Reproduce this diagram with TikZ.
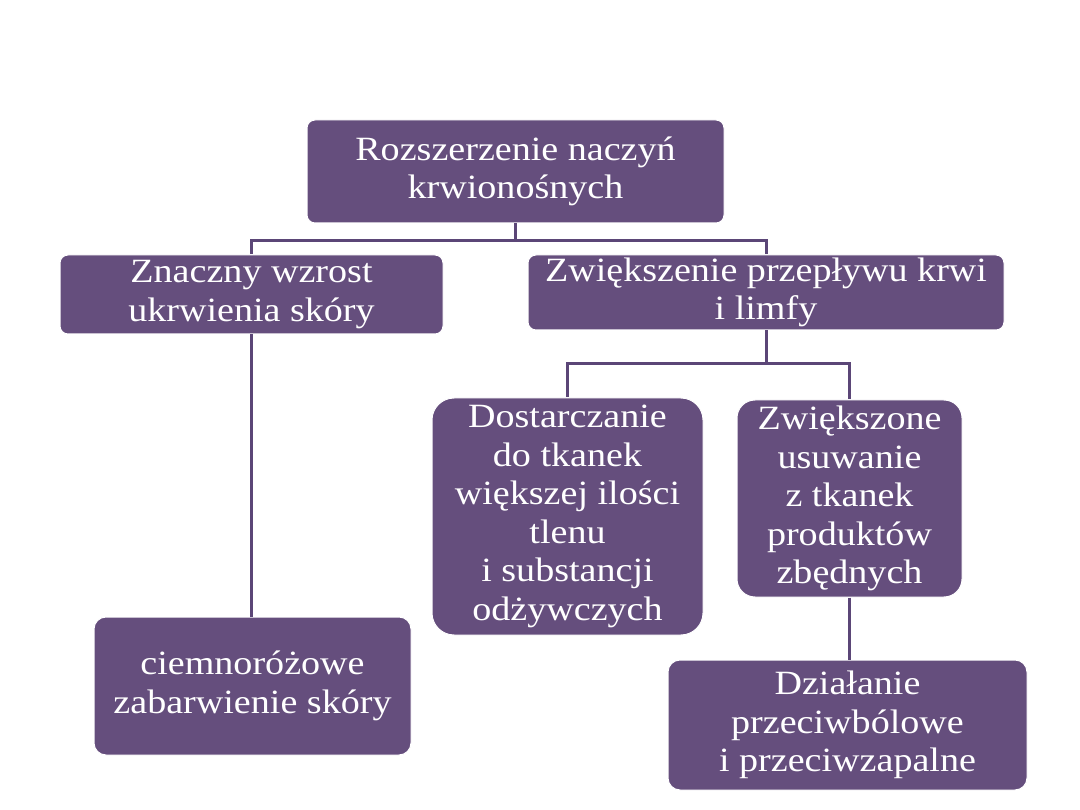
\documentclass[tikz,border=0pt]{standalone}
\usepackage{fontspec}
\setmainfont[FakeStretch=1.12]{Liberation Serif}
\definecolor{boxfill}{HTML}{654E7D}
\definecolor{linecol}{HTML}{5B4677}
\begin{document}
\begin{tikzpicture}[x=1pt,y=-1pt,
  box/.style={draw=white, line width=1pt, fill=boxfill, rounded corners=8pt, text=white,
    align=center, font=\fontsize{34}{38.5}\selectfont, inner sep=0pt},
  conn/.style={draw=linecol, line width=3pt}]
\useasboundingbox (0,0) rectangle (1080,810);
\node[box, minimum width=417pt, minimum height=103pt] (top) at (515.5,171.5) {Rozszerzenie naczyń\\krwionośnych};
\node[box, minimum width=383pt, minimum height=79pt] (left) at (251.5,294.5) {Znaczny wzrost\\ukrwienia skóry};
\node[box, minimum width=476pt, minimum height=75pt] (right) at (766,292.5) {Zwiększenie przepływu krwi\\i limfy};
\node[box, rounded corners=22pt, minimum width=271pt, minimum height=237pt] (dost) at (567.5,516.5) {Dostarczanie\\do tkanek\\większej ilości\\tlenu\\i substancji\\odżywczych};
\node[box, rounded corners=18pt, minimum width=225pt, minimum height=197pt] (zwiek) at (849.5,498.5) {Zwiększone\\usuwanie\\z tkanek\\produktów\\zbędnych};
\node[box, rounded corners=12pt, minimum width=317pt, minimum height=138pt] (ciem) at (252.5,686) {ciemnoróżowe\\zabarwienie skóry};
\node[box, rounded corners=12pt, minimum width=359pt, minimum height=130pt] (dzial) at (847.5,725) {Działanie\\przeciwbólowe\\i przeciwzapalne};
\draw[conn] (top.south) -- ++(0,17) -| (left.north);
\draw[conn] (top.south) -- ++(0,17) -| (right.north);
\draw[conn] (left.south) -- (left.south |- ciem.north);
\draw[conn] (right.south) -- ++(0,33) -| (dost.north);
\draw[conn] (right.south) -- ++(0,33) -| (zwiek.north);
\draw[conn] (zwiek.south) -- (zwiek.south |- dzial.north);
\end{tikzpicture}
\end{document}
